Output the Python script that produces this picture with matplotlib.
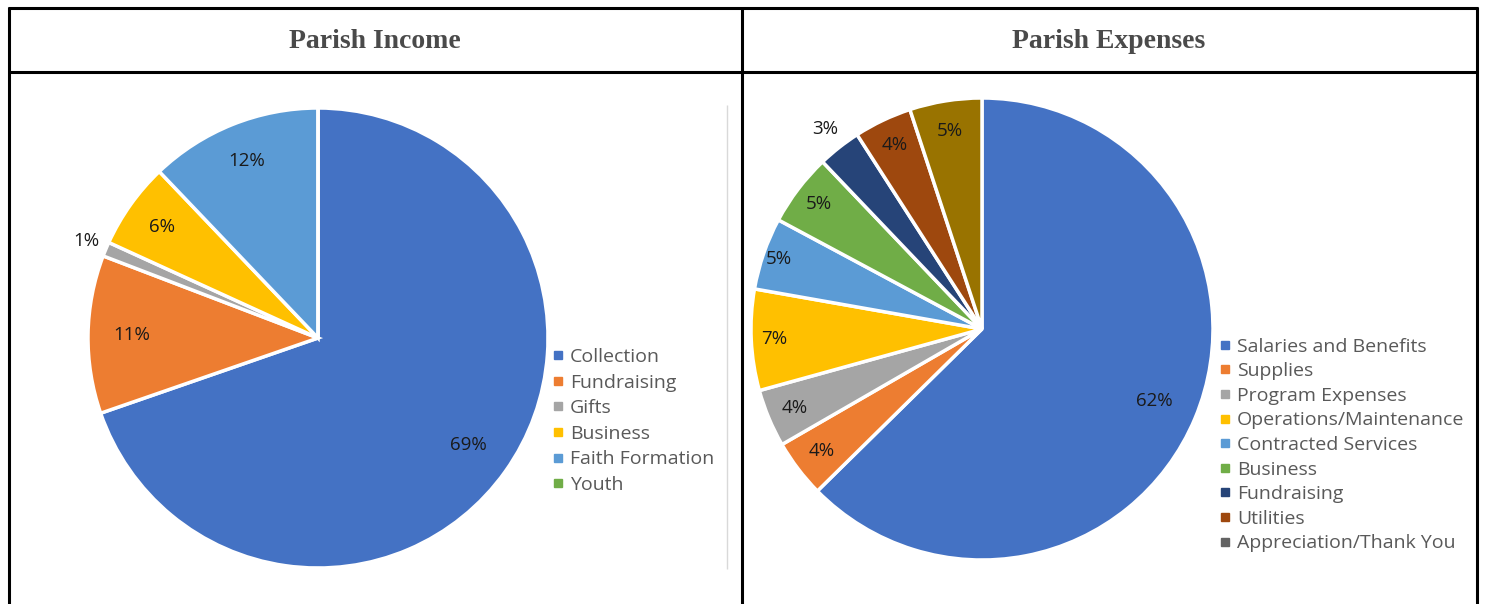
import matplotlib
matplotlib.use("Agg")
import matplotlib.pyplot as plt
from matplotlib.lines import Line2D
import numpy as np

# ---------------- data ----------------
income_labels = ["Collection", "Fundraising", "Gifts", "Business", "Faith Formation", "Youth"]
income_values = [69, 11, 1, 6, 12, 0]
income_colors = ["#4472C4", "#ED7D31", "#A5A5A5", "#FFC000", "#5B9BD5", "#70AD47"]

expense_labels = ["Salaries and Benefits", "Supplies", "Program Expenses",
                  "Operations/Maintenance", "Contracted Services", "Business",
                  "Fundraising", "Utilities", "Appreciation/Thank You"]
expense_values = [62, 4, 4, 7, 5, 5, 3, 4, 5]
expense_colors = ["#4472C4", "#ED7D31", "#A5A5A5", "#FFC000", "#5B9BD5",
                  "#70AD47", "#264478", "#9E480E", "#997300"]
expense_legend_colors = ["#4472C4", "#ED7D31", "#A5A5A5", "#FFC000", "#5B9BD5",
                         "#70AD47", "#264478", "#9E480E", "#636363"]

# label radius (style) per wedge
income_label_r = [0.80, 0.81, 1.09, 0.83, 0.83, 0.8]
expense_label_r = [0.81, 0.87, 0.88, 0.90, 0.93, 0.89, 1.10, 0.88, 0.87]

W, H = 1486, 604
fig = plt.figure(figsize=(W / 100, H / 100), dpi=100)
fig.patch.set_facecolor("white")

def px_axes(cx, cy, r):
    return fig.add_axes([(cx - r) / W, (H - cy - r) / H, 2 * r / W, 2 * r / H])

def draw_pie(ax, values, colors, label_r):
    wedges, _ = ax.pie(values, colors=colors, startangle=90, counterclock=False,
                       wedgeprops=dict(edgecolor="white", linewidth=2.5))
    for w, v, rr in zip(wedges, values, label_r):
        if v <= 0:
            continue
        ang = np.deg2rad((w.theta1 + w.theta2) / 2)
        ax.text(rr * np.cos(ang), rr * np.sin(ang), f"{v}%", ha="center", va="center",
                fontsize=13.5, color="#1a1a1a", family="Open Sans")
    ax.set_xlim(-1, 1)
    ax.set_ylim(-1, 1)
    ax.set_aspect("equal")
    ax.axis("off")

ax1 = px_axes(318, 338, 230)
draw_pie(ax1, income_values, income_colors, income_label_r)
ax2 = px_axes(982, 329, 231)
draw_pie(ax2, expense_values, expense_colors, expense_label_r)

def make_legend(labels, colors, x, y, spacing):
    handles = [Line2D([0], [0], marker="s", linestyle="none", markersize=6,
                      markerfacecolor=c, markeredgecolor=c) for c in colors]
    fig.legend(handles, labels, loc="center left", bbox_to_anchor=(x / W, 1 - y / H),
               frameon=False, borderpad=0, handlelength=0.6, handletextpad=0.35,
               labelspacing=spacing, labelcolor="#595959",
               prop=dict(family="Open Sans", size=14))

make_legend(income_labels, income_colors, 542, 421, 0.39)
make_legend(expense_labels, expense_legend_colors, 1209, 445, 0.34)

# table borders
def fline(x0, y0, x1, y1, color="black", lw=2.2):
    fig.add_artist(Line2D([x0 / W, x1 / W], [1 - y0 / H, 1 - y1 / H],
                          transform=fig.transFigure, color=color, linewidth=lw,
                          solid_capstyle="butt"))

fline(8, 8, 1478, 8)
fline(8, 72, 1478, 72)
fline(9, 7, 9, 604)
fline(742, 7, 742, 604)
fline(1477, 7, 1477, 604)
fline(727, 105, 727, 569, color="#D9D9D9", lw=1)

fig.text(375 / W, 1 - 41 / H, "Parish Income", ha="center", va="center",
         fontsize=20, fontweight="bold", family="Liberation Serif", color="#4a4a4a")
fig.text(1109 / W, 1 - 41 / H, "Parish Expenses", ha="center", va="center",
         fontsize=20, fontweight="bold", family="Liberation Serif", color="#4a4a4a")

fig.savefig("out.png", dpi=100, facecolor="white")
